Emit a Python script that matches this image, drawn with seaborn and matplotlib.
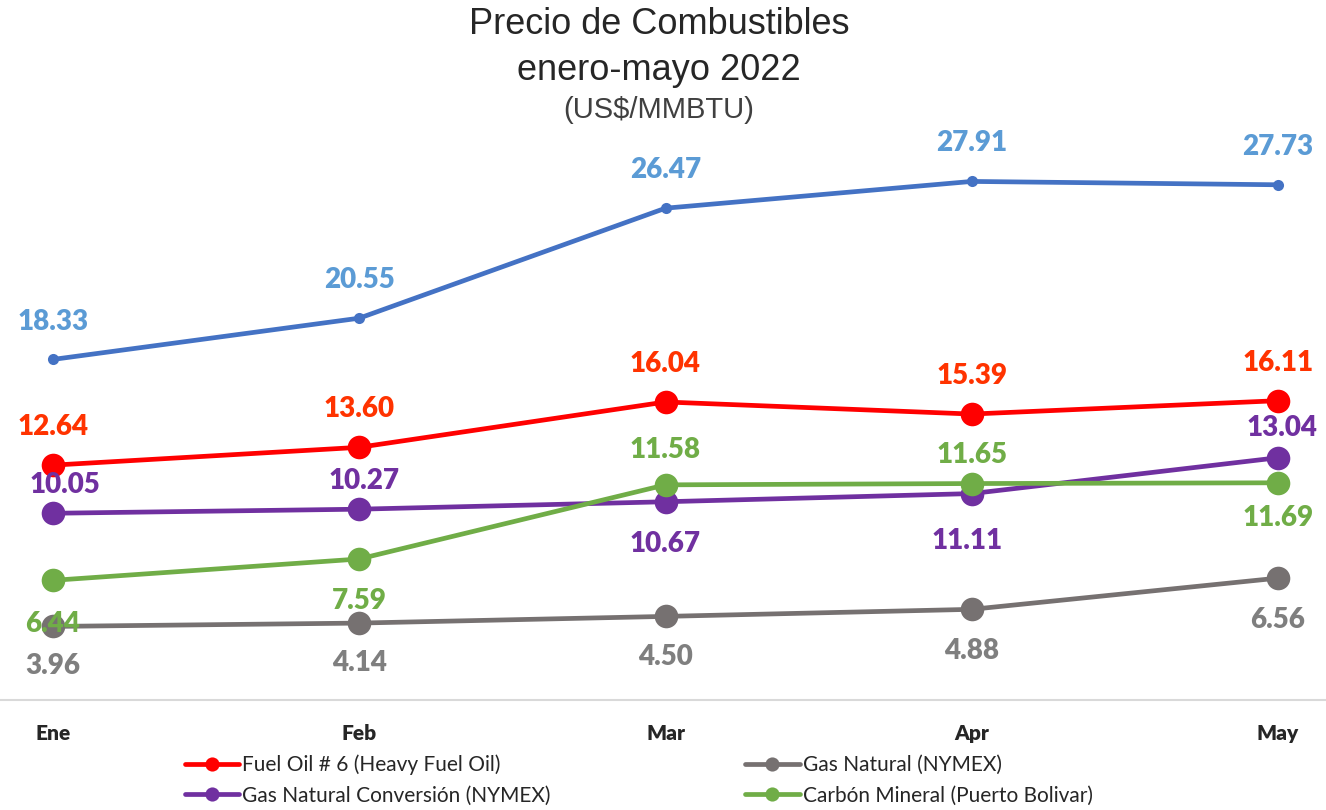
import numpy as np
import pandas as pd
import matplotlib
matplotlib.use("Agg")
import matplotlib.pyplot as plt
import seaborn as sns

meses = ["Ene", "Feb", "Mar", "Apr", "May"]

serie_azul = [18.33, 20.55, 26.47, 27.91, 27.73]
fuel_oil = [12.64, 13.60, 16.04, 15.39, 16.11]
gas_conversion = [10.05, 10.27, 10.67, 11.11, 13.04]
gas_natural = [3.96, 4.14, 4.50, 4.88, 6.56]
carbon = [6.44, 7.59, 11.58, 11.65, 11.69]

nombres = ["Fuel Oil # 6 (Heavy Fuel Oil)", "Gas Natural Conversión (NYMEX)",
           "Gas Natural (NYMEX)", "Carbón Mineral (Puerto Bolivar)"]

sns.set_style("white")
plt.rcParams['font.family'] = ['Lato', 'DejaVu Sans']

fig = plt.figure(figsize=(13.26, 8.10), dpi=100)
ax = fig.add_axes([0, 110 / 810, 1, 560 / 810])

# (valores, color linea, color etiqueta, tamaño marcador, nombre, offsets etiqueta en px (dx, dy))
series = [
    (serie_azul, "#4472C4", "#5B9BD5", 8, None,
     [(0, 37), (0, 38), (0, 38), (0, 38), (0, 38)]),
    (fuel_oil, "#FF0000", "#FF3300", 17, nombres[0],
     [(0, 38), (0, 38), (0, 38), (0, 38), (0, 38)]),
    (gas_conversion, "#7030A0", "#7030A0", 17, nombres[1],
     [(12, 28), (5, 28), (0, -42), (-5, -47), (4, 30)]),
    (gas_natural, "#767171", "#7F7F7F", 17, nombres[2],
     [(0, -40), (0, -40), (0, -41), (0, -42), (0, -42)]),
    (carbon, "#70AD47", "#70AD47", 17, nombres[3],
     [(0, -44), (0, -42), (0, 35), (0, 29), (0, -35)]),
]

handles = {}
for vals, col, lcol, ms, name, offs in series:
    df = pd.DataFrame({"mes": meses, "valor": vals})
    sns.lineplot(data=df, x="mes", y="valor", color=col, linewidth=3.4,
                 marker="o", markersize=ms, markeredgewidth=0, ax=ax, sort=False)
    line = ax.lines[-1]
    if name:
        handles[name] = line
    for i, v in enumerate(vals):
        ax.annotate(f"{v:.2f}", (i, v), xytext=(offs[i][0] * 0.72, offs[i][1] * 0.72),
                    textcoords="offset points", ha="center", va="center",
                    fontsize=20, fontweight="heavy", color=lcol)

ax.set_xlim(-53 / 306.25, (1326 - 53) / 306.25)
ax.set_ylim(0, 560 / 18.58)
ax.set_xlabel("")
ax.set_ylabel("")
ax.set_yticks([])
ax.set_xticks(range(len(meses)))
ax.set_xticklabels(meses, fontsize=15, fontweight="heavy")
ax.tick_params(axis="x", length=0, pad=17)
for s in ["top", "left", "right"]:
    ax.spines[s].set_visible(False)
ax.spines["bottom"].set_color("#D9D9D9")
ax.spines["bottom"].set_linewidth(1.5)
ax.patch.set_alpha(0)

fig.text(0.497, 1 - 25 / 810, "Precio de Combustibles", ha="center", va="center",
         fontsize=26, family="Liberation Sans")
fig.text(0.497, 1 - 70 / 810, "enero-mayo 2022", ha="center", va="center",
         fontsize=26, family="Liberation Sans")
fig.text(0.497, 1 - 110 / 810, "(US$/MMBTU)", ha="center", va="center",
         fontsize=21, family="Liberation Sans", color="#404040")

leg = fig.legend([handles[n] for n in nombres], nombres, ncol=2,
                 loc="center left", bbox_to_anchor=(166 / 1326, 1 - 780 / 810),
                 frameon=False, fontsize=15, handlelength=2.6, handletextpad=0.15,
                 columnspacing=9.35, labelspacing=0.5, markerscale=0.6)

fig.savefig("out.png", dpi=100)
